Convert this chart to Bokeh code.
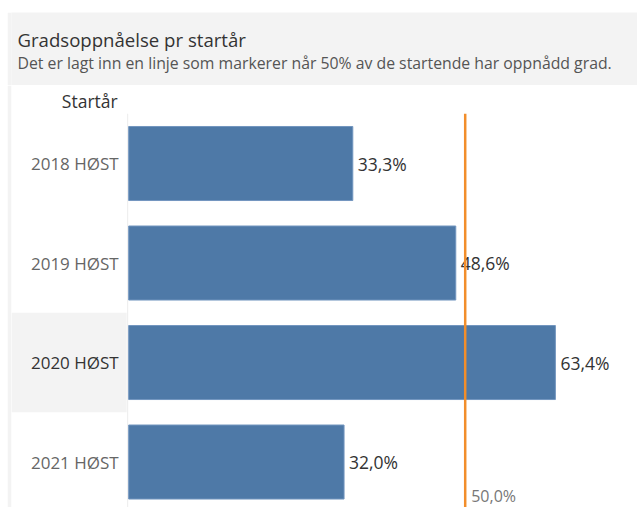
from bokeh.plotting import figure
from bokeh.models import Range1d, ColumnDataSource, Spacer
from bokeh.layouts import column, row
from bokeh.core.properties import value
from bokeh.embed import file_html
from bokeh.resources import INLINE

# ---- data ----
categories = ["2018 HØST", "2019 HØST", "2020 HØST", "2021 HØST"]
values = [33.3, 48.6, 63.4, 32.0]
value_labels = ["33,3%", "48,6%", "63,4%", "32,0%"]
reference_value = 50.0
reference_label = "50,0%"
highlighted = "2020 HØST"
header_text = "Startår"
title_text = "Gradsoppnåelse pr startår"
subtitle_text = "Det er lagt inn en linje som markerer når 50% av de startende har oppnådd grad."

# ---- styling ----
FONT = "Open Sans"
BAR_COLOR = "#4e79a7"
REF_COLOR = "#f28e2b"
BG_GRAY = "#f3f3f3"

W = 630
TITLE_H = 73
H = 422
X0, X1 = -17.41, 75.60           # left label column is part of the frame
Y_BOTTOM, Y_TOP = 3.457, -0.784  # rows counted from the top

# ---- title band (its own small figure in pixel units) ----
t = figure(width=W, height=TITLE_H, output_backend="svg", toolbar_location=None,
           x_range=Range1d(0, W), y_range=Range1d(TITLE_H, 0),
           x_axis_location=None, y_axis_location=None, min_border=0)
t.grid.visible = False
t.outline_line_color = None
t.background_fill_color = BG_GRAY
t.border_fill_color = BG_GRAY
t.text(x=[6], y=[27], text=[title_text], text_align="left", text_baseline="alphabetic",
       text_color="#333333", text_font=value(FONT), text_font_size="18.6px")
t.text(x=[6], y=[50.5], text=[subtitle_text], text_align="left", text_baseline="alphabetic",
       text_color="#555555", text_font=value(FONT), text_font_size="15.8px")

# ---- main chart ----
rows = list(range(len(categories)))
label_colors = ["#333333" if c == highlighted else "#666666" for c in categories]

src = ColumnDataSource(dict(
    y=rows, cat=categories, val=values, lab=value_labels, col=label_colors,
))

p = figure(width=W, height=H, output_backend="svg", toolbar_location=None,
           x_range=Range1d(X0, X1), y_range=Range1d(Y_BOTTOM, Y_TOP),
           x_axis_location=None, y_axis_location=None,
           min_border_left=4, min_border_right=0, min_border_bottom=0,
           min_border_top=0)
p.grid.visible = False
p.outline_line_color = None
p.border_fill_color = BG_GRAY
p.background_fill_color = "white"

# highlighted row in the label column
hi = categories.index(highlighted)
p.quad(left=X0, right=-0.3, top=hi - 0.5, bottom=hi + 0.5,
       fill_color=BG_GRAY, line_color=None)
# faint divider between label column and bars
p.segment(x0=-0.15, y0=-0.5, x1=-0.15, y1=Y_BOTTOM, line_color="#ececec", line_width=1)

# bars
p.hbar(y="y", left=0, right="val", height=0.744, source=src,
       fill_color=BAR_COLOR, line_color="#7396bf", line_width=1)

# category labels
p.text(x=0, y="y", text="cat", source=src, x_offset=-10,
       text_align="right", text_baseline="middle", text_color="col",
       text_font=value(FONT), text_font_size="17px")
# header
p.text(x=[0], y=[-0.633], text=[header_text], x_offset=-11,
       text_align="right", text_baseline="middle", text_color="#333333",
       text_font=value(FONT), text_font_size="17.5px")

# value labels
p.text(x="val", y="y", text="lab", source=src, x_offset=5,
       text_align="left", text_baseline="middle", text_color="#333333",
       text_font=value(FONT), text_font_size="17.5px")

# reference line
p.segment(x0=reference_value, y0=-0.5, x1=reference_value, y1=Y_BOTTOM,
          line_color=REF_COLOR, line_width=2.5)
p.text(x=[reference_value], y=[Y_BOTTOM], text=[reference_label], x_offset=6, y_offset=-1,
       text_align="left", text_baseline="bottom", text_color="#777777",
       text_font=value(FONT), text_font_size="16px")

layout = column(Spacer(height=12), row(Spacer(width=7), column(t, p)))
open("out.html", "w").write(file_html(layout, INLINE))
